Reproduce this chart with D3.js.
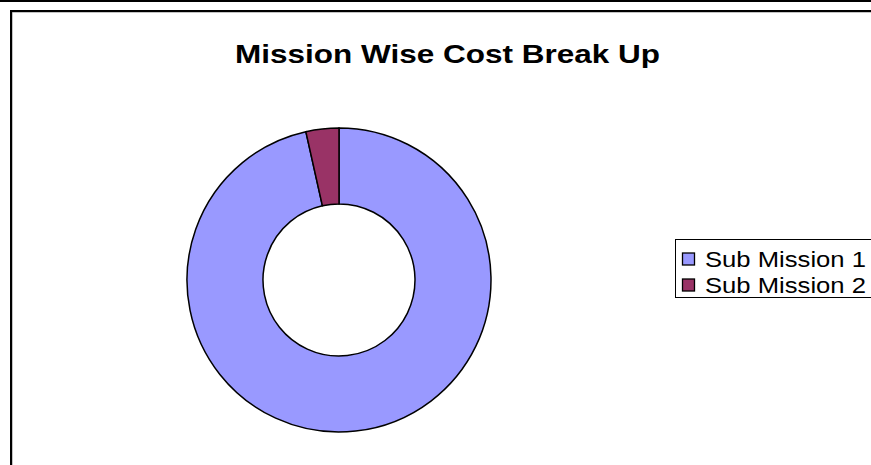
<!DOCTYPE html>
<html><head><meta charset="utf-8">
<script src="https://cdn.jsdelivr.net/npm/d3@7"></script>
<style>html,body{margin:0;padding:0;background:#fff;overflow:hidden}</style>
</head><body>
<svg id="c" width="871" height="465"></svg>
<script>
const title = "Mission Wise Cost Break Up";
const categories = ["Sub Mission 1", "Sub Mission 2"];
const values = [96.5, 3.5];
const colors = ["#9999FF", "#993366"];

const svg = d3.select("#c");
const font = "Liberation Sans, Arial, sans-serif";
// outer frame lines
svg.append("line").attr("x1",0).attr("x2",871).attr("y1",1).attr("y2",1).attr("stroke","#000").attr("stroke-width",2);
svg.append("rect").attr("x",12).attr("y",12).attr("width",900).attr("height",500).attr("fill","none").attr("stroke","#888").attr("stroke-width",1);
svg.append("rect").attr("x",11).attr("y",11).attr("width",900).attr("height",500).attr("fill","none").attr("stroke","#000").attr("stroke-width",2);

svg.append("text").attr("x",235).attr("y",63)
  .attr("font-family",font).attr("font-weight","bold").attr("font-size",26)
  .attr("textLength",425).attr("lengthAdjust","spacingAndGlyphs")
  .text(title);

const pie = d3.pie().sort(null).value(d=>d);
const arc = d3.arc().innerRadius(76).outerRadius(152);
const g = svg.append("g").attr("transform","translate(339,280)");
g.selectAll("path").data(pie(values)).join("path")
  .attr("d",arc).attr("fill",(d,i)=>colors[i]).attr("stroke","#000").attr("stroke-width",1.5);

// legend
const lg = svg.append("g");
lg.append("rect").attr("x",675.5).attr("y",239.5).attr("width",220).attr("height",58).attr("fill","#fff").attr("stroke","#000").attr("stroke-width",1);
categories.forEach((c,i)=>{
  const y = 259 + i*26;
  lg.append("rect").attr("x",682.5).attr("y",y-6).attr("width",12).attr("height",12).attr("fill",colors[i]).attr("stroke","#000").attr("stroke-width",1.3);
  lg.append("text").attr("x",705).attr("y",y+8).attr("font-family",font).attr("font-size",21.5)
    .attr("textLength",161).attr("lengthAdjust","spacingAndGlyphs").text(c);
});
</script>
</body></html>
